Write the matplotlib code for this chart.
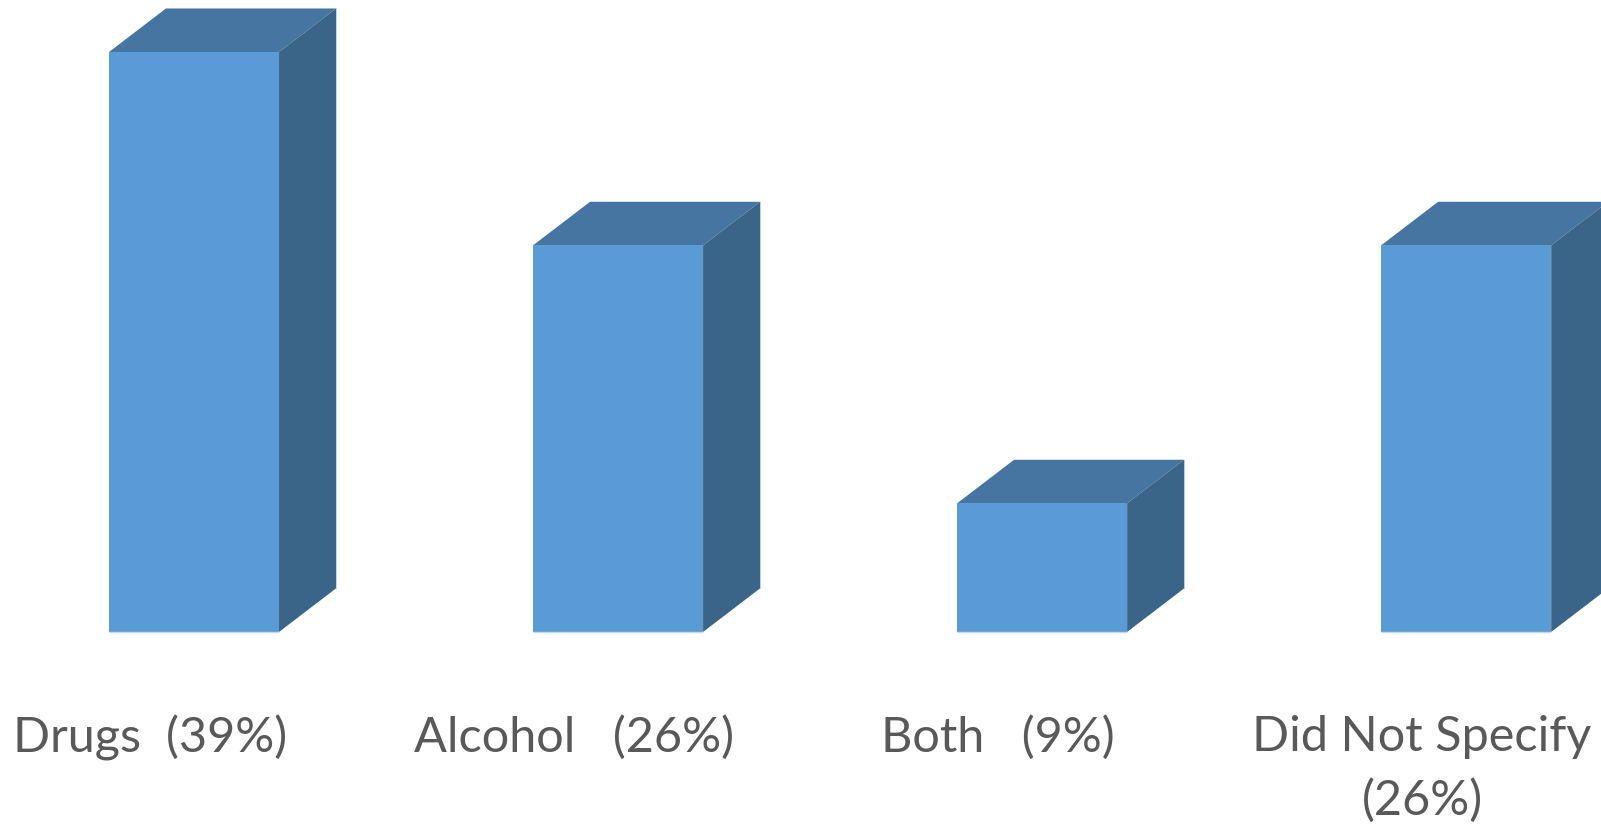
import matplotlib
matplotlib.use("Agg")
import matplotlib.pyplot as plt
from matplotlib.patches import Polygon

# values
categories = ["Drugs  (39%)", "Alcohol   (26%)", "Both   (9%)", "Did Not Specify\n(26%)"]
values = [39, 26, 8.65, 26]

# style
front_col = "#5B9BD5"
top_col = "#4675A1"
side_col = "#3A6488"
edge_col = "#C5D9EE"
text_col = "#595959"

bar_w = 0.401
depth_x = 0.1344  # fake 3d depth, x units
depth_y = 2.93    # fake 3d depth, y units
label_shift = -0.104

plt.rcParams["font.family"] = ["Lato", "DejaVu Sans"]

fig = plt.figure(figsize=(16.01, 8.26), dpi=100)
ax = fig.add_axes([0, 0, 1, 1])

xs = list(range(len(values)))
ax.bar(xs, values, width=bar_w, color=front_col, zorder=3)

for x, v in zip(xs, values):
    l = x - bar_w / 2
    r = x + bar_w / 2
    top = [(l, v), (r, v), (r + depth_x, v + depth_y), (l + depth_x, v + depth_y)]
    side = [(r, 0), (r + depth_x, depth_y), (r + depth_x, v + depth_y), (r, v)]
    ax.add_patch(Polygon(top, closed=True, fc=top_col, ec="none", zorder=2))
    ax.add_patch(Polygon(side, closed=True, fc=side_col, ec="none", zorder=2))
    # thin light rim that the original has
    ax.plot([l, r], [0, 0], color=edge_col, lw=1, zorder=4, solid_capstyle="butt")
    ax.plot([r + depth_x, r + depth_x], [depth_y, v + depth_y], color=edge_col, lw=0.8, zorder=1)

ax.set_xlim(-0.4575, 3.318)
ax.set_ylim(-13.05, 42.5)

ax.set_xticks([x + label_shift for x in xs])
ax.set_xticklabels(categories, fontsize=35, color=text_col, linespacing=1.53)
ax.tick_params(axis="x", length=0, direction="in", pad=-80)
ax.set_yticks([])
for s in ax.spines.values():
    s.set_visible(False)

fig.savefig("out.png", dpi=100)
